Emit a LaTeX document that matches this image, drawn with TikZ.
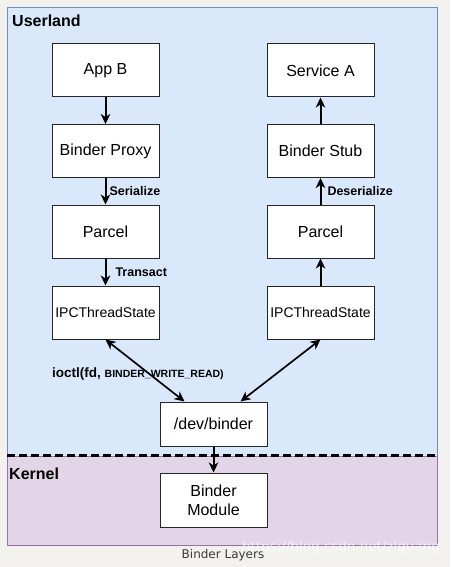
\documentclass[tikz,border=0pt]{standalone}
\usepackage{fontspec}
\setmainfont{Liberation Sans}
\newfontfamily\capfont{DejaVu Sans}
\usetikzlibrary{arrows.meta}
\definecolor{userfill}{HTML}{DAE8FC}
\definecolor{userline}{HTML}{6C8EBF}
\definecolor{kernfill}{HTML}{E1D5E7}
\definecolor{kernline}{HTML}{9673A6}
\definecolor{pagebg}{HTML}{F2F1EE}
\definecolor{capgray}{HTML}{3A3A3A}
\begin{document}
\begin{tikzpicture}[x=1pt,y=-1pt,
  box/.style={draw=black!85, line width=1pt, fill=white, minimum width=107pt, minimum height=53pt, inner sep=0pt, align=center, font=\fontsize{16}{19}\selectfont},
  smallbox/.style={box, font=\fontsize{14}{17}\selectfont},
  flow/.style={line width=2pt, -{Stealth[length=10pt,width=9.5pt,inset=3pt]}},
  both/.style={line width=1.7pt, {Stealth[length=10pt,width=9.5pt,inset=3pt]}-{Stealth[length=10pt,width=9.5pt,inset=3pt]}},
  lbl/.style={font=\bfseries\fontsize{12.5}{14}\selectfont, inner sep=1pt},
  area/.style={font=\bfseries\fontsize{16}{19}\selectfont, inner sep=0pt, anchor=west}
]
\useasboundingbox (0,0) rectangle (450,567);
\fill[pagebg] (0,0) rectangle (450,567);
% panels
\draw[userline, fill=userfill, line width=0.8pt] (7,7) rectangle (437,456);
\draw[kernline, fill=kernfill, line width=0.8pt] (7,456) rectangle (437,545);
\draw[black, line width=2.3pt, dash pattern=on 8pt off 4pt] (7,455.5) -- (437,455.5);
\node[area] (userland) at (12,21) {Userland};
\node[area] (kernel) at (9,474) {Kernel};
% left column
\node[box] (appb) at (105.5,70.5) {App B};
\node[box] (proxy) at (105.5,151) {Binder Proxy};
\node[box] (lparcel) at (105.5,231.5) {Parcel};
\node[smallbox] (lipc) at (105.5,312.5) {IPCThreadState};
% right column
\node[box] (servicea) at (320.5,70.5) {Service A};
\node[box] (stub) at (320.5,151) {Binder Stub};
\node[box] (rparcel) at (320.5,231.5) {Parcel};
\node[smallbox] (ripc) at (320.5,312.5) {IPCThreadState};
% kernel side
\node[box, minimum height=44pt] (dev) at (213.5,424) {/dev/binder};
\node[box, minimum height=54pt] (module) at (213.5,500) {Binder\\Module};
% connectors
\draw[flow] (appb) -- (proxy);
\draw[flow] (proxy) -- node[lbl, right, xshift=2pt] {Serialize} (lparcel);
\draw[flow] (lparcel) -- node[lbl, right, xshift=8pt] {Transact} (lipc);
\draw[flow] (stub) -- (servicea);
\draw[flow] (rparcel) -- node[lbl, right, xshift=5pt] {Deserialize} (stub);
\draw[flow] (ripc) -- (rparcel);
\draw[both] (lipc.south) -- ([xshift=25pt]dev.north west);
\draw[both] (ripc.south) -- ([xshift=-27pt]dev.north east);
\draw[flow] (dev) -- (module);
\node[anchor=west, inner sep=0pt, font=\bfseries] (ioctl) at (52,374) {{\fontsize{13.5}{15}\selectfont ioctl(fd, }{\fontsize{10.5}{12}\selectfont BINDER\_WRITE\_READ)}};
% caption and watermark
\node[font=\capfont\fontsize{12}{14}\selectfont, text=capgray] (caption) at (223,555) {Binder Layers};
\node[font=\capfont\fontsize{13.5}{15}\selectfont, text=white, opacity=0.7, anchor=east, inner sep=0pt] (mark) at (440,548) {https://blog.csdn.net/zlguang};
\end{tikzpicture}
\end{document}
